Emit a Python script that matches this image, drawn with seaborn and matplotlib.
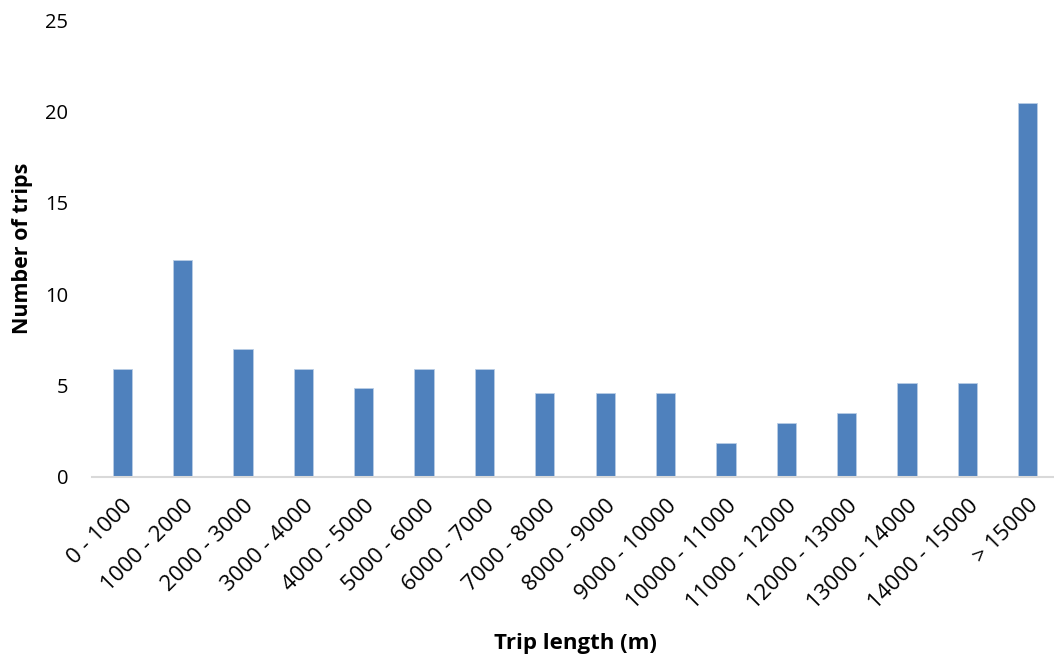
import matplotlib
matplotlib.use("Agg")
import matplotlib.pyplot as plt
import seaborn as sns
import pandas as pd

categories = ["0 - 1000", "1000 - 2000", "2000 - 3000", "3000 - 4000", "4000 - 5000",
              "5000 - 6000", "6000 - 7000", "7000 - 8000", "8000 - 9000", "9000 - 10000",
              "10000 - 11000", "11000 - 12000", "12000 - 13000", "13000 - 14000",
              "14000 - 15000", "> 15000"]
values = [5.92, 11.85, 7.0, 5.92, 4.85, 5.92, 5.92, 4.58, 4.58, 4.58,
          1.87, 2.95, 3.5, 5.13, 5.13, 20.47]
y_ticks = [0, 5, 10, 15, 20, 25]

sns.set_theme(style="white")
plt.rcParams['font.family'] = ['Open Sans', 'DejaVu Sans']
plt.rcParams['text.color'] = 'black'
plt.rcParams['xtick.color'] = 'black'
plt.rcParams['ytick.color'] = 'black'
plt.rcParams['axes.labelcolor'] = 'black'

df = pd.DataFrame({"cat": categories, "val": values})

fig = plt.figure(figsize=(10.54, 6.56), dpi=100)
ax = fig.add_axes([92/1054, 1 - 477/656, (1058 - 92)/1054, (477 - 20)/656])
sns.barplot(data=df, x="cat", y="val", color="#4F81BD", saturation=1, width=0.32,
            edgecolor="#B9CDE5", linewidth=0.6, ax=ax)

ax.set_ylim(0, 25)
ax.set_xlim(-0.5, len(categories) - 0.5)
ax.set_yticks(y_ticks)
ax.set_yticklabels([str(t) for t in y_ticks], fontsize=14.5)
for s in ["top", "right", "left"]:
    ax.spines[s].set_visible(False)
ax.spines["bottom"].set_color("#D9D9D9")
ax.spines["bottom"].set_linewidth(1.5)
ax.tick_params(axis="y", length=0, pad=17)
ax.tick_params(axis="x", length=0, pad=13)
ax.set_xticks(range(len(categories)))
ax.set_xticklabels(categories, rotation=45, ha="right", rotation_mode="anchor", fontsize=16)
ax.set_xlabel("Trip length (m)", fontsize=16, fontweight="bold", labelpad=14)
ax.set_ylabel("Number of trips", fontsize=15.5, fontweight="bold", labelpad=9)

fig.savefig("out.png", dpi=100)
